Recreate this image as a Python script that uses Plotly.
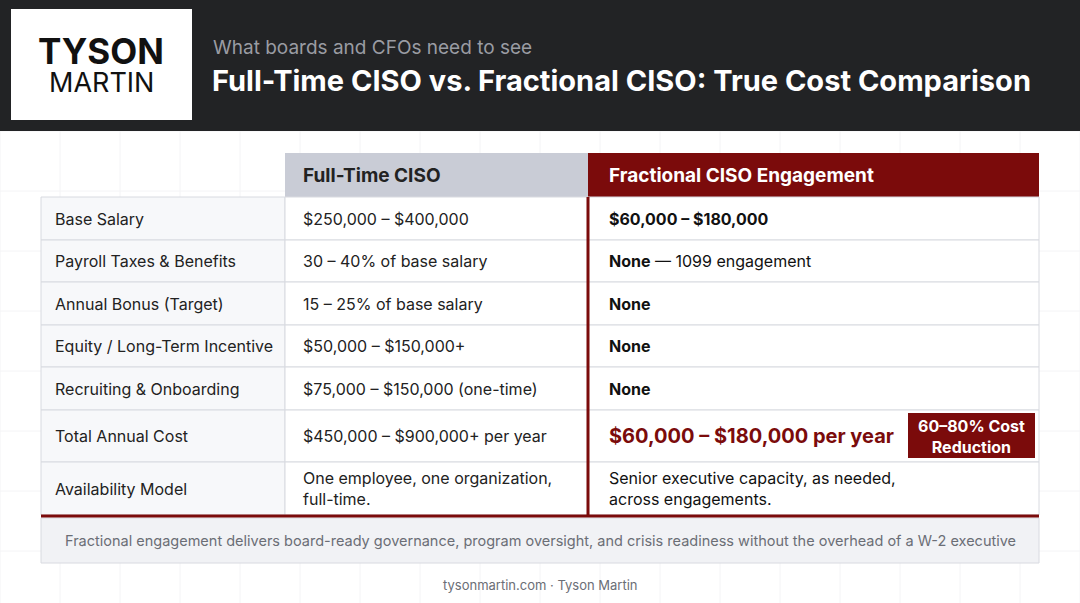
import plotly.graph_objects as go

labels = ["Base Salary", "Payroll Taxes & Benefits", "Annual Bonus (Target)",
          "Equity / Long-Term Incentive", "Recruiting & Onboarding",
          "Total Annual Cost", "Availability Model"]
full_time = ["$250,000 – $400,000", "30 – 40% of base salary", "15 – 25% of base salary",
             "$50,000 – $150,000+", "$75,000 – $150,000 (one-time)",
             "$450,000 – $900,000+ per year", "One employee, one organization,<br>full-time."]
fractional = ["<b>$60,000 – $180,000</b>", "<b>None</b> — 1099 engagement", "<b>None</b>",
              "<b>None</b>", "<b>None</b>", "<b>$60,000 – $180,000 per year</b>",
              "Senior executive capacity, as needed,<br>across engagements."]
headers = ["Full-Time CISO", "Fractional CISO Engagement"]
row_edges = [197, 240, 282, 325, 367, 410, 462, 515]

F = "Inter"
RED = "#7b0b0b"
fig = go.Figure()
shapes, ann = [], []
def rect(x0, y0, x1, y1, fill, line=None, w=0, layer="below"):
    shapes.append(dict(type="rect", x0=x0, y0=y0, x1=x1, y1=y1, fillcolor=fill,
                       line=dict(color=line or fill, width=w), layer=layer))
def text(x, y, s, size=16, color="#222", xa="left", align="left"):
    ann.append(dict(x=x, y=y, text=s, showarrow=False, xanchor=xa, yanchor="middle",
                    font=dict(family=F, size=size, color=color), align=align))

for gx in range(0, 1081, 60):
    shapes.append(dict(type="line", x0=gx, x1=gx, y0=131, y1=603, line=dict(color="#f4f4f6", width=1), layer="below"))
for gy in range(131, 604, 60):
    shapes.append(dict(type="line", x0=0, x1=1080, y0=gy, y1=gy, line=dict(color="#f4f4f6", width=1), layer="below"))

rect(0, 0, 1080, 131, "#222325")
rect(11, 9, 192, 120, "white")
text(101, 51, "<b>TYSON</b>", 35, "#111", xa="center", align="center")
text(101, 82, "MARTIN", 27, "#111", xa="center", align="center")
text(211, 47, "What boards and CFOs need to see", 19, "#9a9ca3")
text(210, 80, "<b>Full-Time CISO vs. Fractional CISO: True Cost Comparison</b>", 29, "white")

rect(285, 153, 588, 197, "#c9ccd6")
rect(588, 153, 1039, 197, RED)
text(301, 175, "<b>" + headers[0] + "</b>", 19, "#222")
text(607, 175, "<b>" + headers[1] + "</b>", 19, "white")

for i, lab in enumerate(labels):
    y0, y1 = row_edges[i], row_edges[i + 1]
    ym = (y0 + y1) / 2
    rect(41, y0, 285, y1, "#f7f8fa", "#d8dae0", 1)
    rect(285, y0, 588, y1, "white", "#d8dae0", 1)
    rect(588, y0, 1039, y1, "white", "#d8dae0", 1)
    text(53, ym, lab, 16)
    text(301, ym, full_time[i], 16)
    if i == 5:
        text(607, ym, fractional[i], 20, RED)
    else:
        text(607, ym, fractional[i], 16, "#111")

shapes.append(dict(type="rect", x0=908, y0=413, x1=1035, y1=458, fillcolor=RED,
                   line=dict(color=RED, width=0), layer="above"))
text(971, 436, "<b>60–80% Cost<br>Reduction</b>", 16, "white", xa="center", align="center")

shapes.append(dict(type="line", x0=588, x1=588, y0=197, y1=515, line=dict(color=RED, width=3), layer="above"))
shapes.append(dict(type="line", x0=41, x1=1039, y0=516, y1=516, line=dict(color=RED, width=3), layer="above"))

rect(41, 518, 1039, 563, "#f1f2f5", "#d8dae0", 1)
text(540, 541, "Fractional engagement delivers board-ready governance, program oversight, and crisis readiness without the overhead of a W-2 executive", 14.5, "#6b6e76", xa="center", align="center")
text(540, 585, "tysonmartin.com · Tyson Martin", 13, "#6b6e76", xa="center", align="center")

fig.update_layout(width=1080, height=603, margin=dict(l=0, r=0, t=0, b=0),
                  paper_bgcolor="white", plot_bgcolor="white", shapes=shapes, annotations=ann,
                  xaxis=dict(range=[0, 1080], visible=False, fixedrange=True),
                  yaxis=dict(range=[603, 0], visible=False, fixedrange=True),
                  showlegend=False)
fig.write_html("out.html", config={"displayModeBar": False})
with open("out.html", encoding="utf-8") as f:
    html = f.read()
html = html.replace("<body>", '<body style="margin:0;overflow:hidden">', 1)
with open("out.html", "w", encoding="utf-8") as f:
    f.write(html)
